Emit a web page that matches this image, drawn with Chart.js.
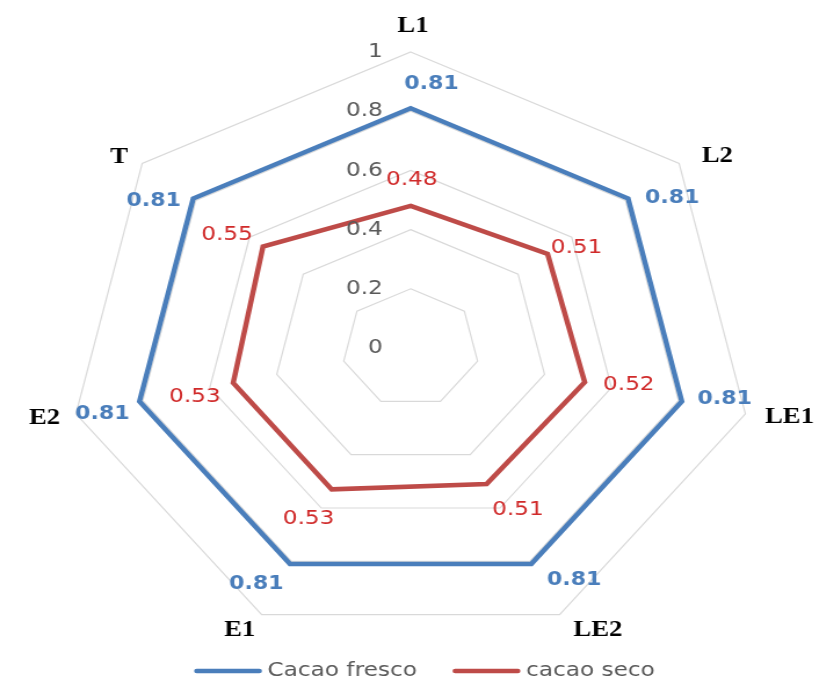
<!DOCTYPE html>
<html lang="es">
<head>
  <meta charset="UTF-8" />
  <title>Radar - Cacao fresco vs cacao seco</title>
  <script src="https://cdn.jsdelivr.net/npm/chart.js"></script>
  <style>
    html, body {
      margin: 0;
      padding: 0;
      background: #ffffff;
      overflow: hidden;
    }
    /* the reference is a horizontally stretched chart, so draw narrower and stretch */
    #wrap {
      width: 708px;
      height: 693px;
      transform: scaleX(1.16);
      transform-origin: 0 0;
    }
  </style>
</head>
<body>
  <div id="wrap"><canvas id="radarChart"></canvas></div>

  <script>
    const categories = ['L1', 'L2', 'LE1', 'LE2', 'E1', 'E2', 'T'];
    const cacaoFresco = [0.81, 0.81, 0.81, 0.81, 0.81, 0.81, 0.81];
    const cacaoSeco = [0.48, 0.51, 0.52, 0.51, 0.53, 0.53, 0.55];
    const tickValues = [0, 0.2, 0.4, 0.6, 0.8, 1];

    // label placement, relative to the point (in canvas px)
    const blueLabelOffsets = [[18, -24], [38, 0], [37, -2], [37, 16], [-29, 20], [-32, 13], [-34, 3]];
    const redLabelOffsets = [[1, -26], [25, -6], [38, 3], [27, 26], [-20, 29], [-33, 14], [-31, -12]];
    const axisLabelOffsets = [[2, -26], [33, -7], [38, 3], [33, 15], [-19, 15], [-27, 4], [-20, -6]];

    const labelsPlugin = {
      id: 'radarLabels',
      afterDatasetsDraw(chart) {
        const ctx = chart.ctx;
        const scale = chart.scales.r;
        ctx.save();

        // tick labels, right aligned left of the vertical axis
        ctx.font = '20px "DejaVu Sans"';
        ctx.fillStyle = '#595959';
        ctx.textAlign = 'right';
        ctx.textBaseline = 'middle';
        tickValues.forEach(v => {
          const d = scale.getDistanceFromCenterForValue(v);
          ctx.fillText(String(v), scale.xCenter - 24, scale.yCenter - d);
        });

        // axis names
        ctx.font = 'bold 23px "Liberation Serif"';
        ctx.fillStyle = '#000000';
        ctx.textAlign = 'center';
        chart.data.labels.forEach((lab, i) => {
          const p = scale.getPointPosition(i, scale.drawingArea);
          ctx.fillText(lab, p.x + axisLabelOffsets[i][0], p.y + axisLabelOffsets[i][1]);
        });

        // value labels
        const styles = [
          { font: 'bold 19px "DejaVu Sans"', color: '#4a7ebb', offsets: blueLabelOffsets },
          { font: '20px "DejaVu Sans"', color: '#d02a2a', offsets: redLabelOffsets }
        ];
        chart.data.datasets.forEach((ds, di) => {
          const meta = chart.getDatasetMeta(di);
          const st = styles[di];
          ctx.font = st.font;
          ctx.fillStyle = st.color;
          meta.data.forEach((pt, i) => {
            ctx.fillText(ds.data[i].toFixed(2), pt.x + st.offsets[i][0], pt.y + st.offsets[i][1]);
          });
        });

        // legend (drawn by hand to get Excel-like spacing)
        const lineLen = 58, textGap = 5, itemGap = 31;
        ctx.font = '20px "DejaVu Sans"';
        ctx.textAlign = 'left';
        const items = chart.data.datasets.map(ds => ({
          text: ds.label,
          color: ds.borderColor,
          w: lineLen + textGap + ctx.measureText(ds.label).width
        }));
        const total = items.reduce((s, it) => s + it.w, 0) + itemGap * (items.length - 1);
        let x = chart.width / 2 - total / 2 + 12;
        const y = chart.chartArea.bottom + 27;
        items.forEach(it => {
          ctx.strokeStyle = it.color;
          ctx.lineWidth = 4.5;
          ctx.lineCap = 'round';
          ctx.beginPath();
          ctx.moveTo(x + 2, y);
          ctx.lineTo(x + lineLen - 2, y);
          ctx.stroke();
          ctx.fillStyle = '#595959';
          ctx.fillText(it.text, x + lineLen + textGap, y);
          x += it.w + itemGap;
        });

        ctx.restore();
      }
    };

    new Chart(document.getElementById('radarChart'), {
      type: 'radar',
      data: {
        labels: categories,
        datasets: [
          {
            label: 'Cacao fresco',
            data: cacaoFresco,
            borderColor: '#4a7ebb',
            backgroundColor: '#4a7ebb',
            borderWidth: 4.5,
            borderJoinStyle: 'miter',
            pointRadius: 0,
            fill: false
          },
          {
            label: 'cacao seco',
            data: cacaoSeco,
            borderColor: '#be4b48',
            backgroundColor: '#be4b48',
            borderWidth: 4.5,
            borderJoinStyle: 'miter',
            pointRadius: 0,
            fill: false
          }
        ]
      },
      options: {
        responsive: true,
        maintainAspectRatio: false,
        animation: false,
        layout: {
          padding: { top: 52, bottom: 49, left: 0, right: 0 }
        },
        scales: {
          r: {
            min: 0,
            max: 1,
            ticks: { display: false, stepSize: 0.2 },
            pointLabels: { display: false },
            angleLines: { display: false },
            grid: { color: '#d9d9d9', lineWidth: 1.2 }
          }
        },
        plugins: {
          legend: { display: false },
          tooltip: { enabled: false }
        }
      },
      plugins: [labelsPlugin]
    });
  </script>
</body>
</html>
